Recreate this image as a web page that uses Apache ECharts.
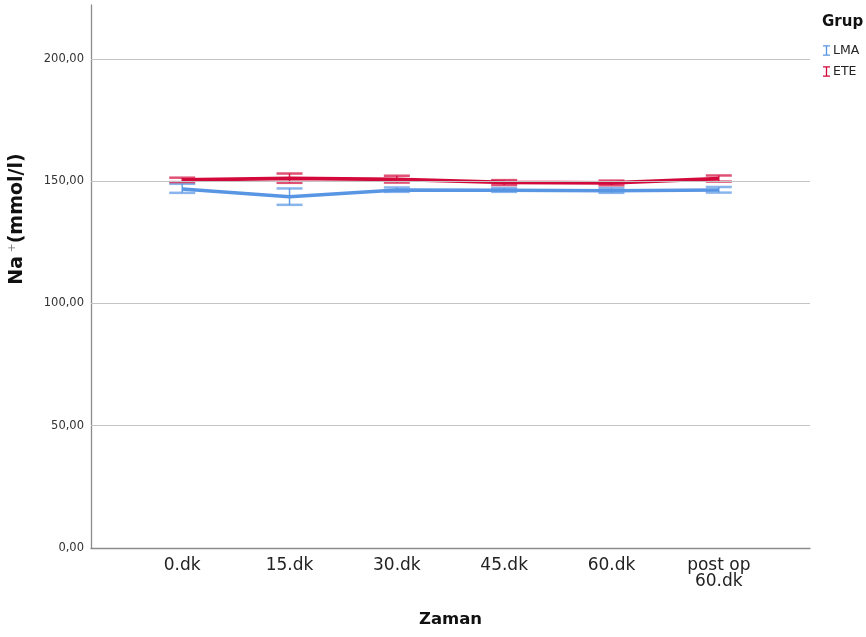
<!DOCTYPE html>
<html>
<head>
<meta charset="utf-8">
<script src="https://cdn.jsdelivr.net/npm/echarts@6/dist/echarts.min.js"></script>
<style>html,body{margin:0;padding:0;background:#fff;}#c{width:866px;height:637px;}</style>
</head>
<body>
<div id="c"></div>
<script>
var categories = ['0.dk', '15.dk', '30.dk', '45.dk', '60.dk', 'post op\n60.dk'];
var lmaMean = [146.8, 143.6, 146.4, 146.3, 146.1, 146.4];
var lmaLow  = [145.2, 140.3, 145.6, 145.6, 145.2, 145.3];
var lmaHigh = [148.9, 147.0, 147.4, 147.2, 147.2, 147.6];
var eteMean = [150.5, 151.1, 150.7, 149.5, 149.3, 151.0];
var eteLow  = [149.6, 149.3, 149.4, 148.4, 148.3, 149.8];
var eteHigh = [151.4, 153.1, 152.2, 150.4, 150.2, 152.3];
var yTicks = [0, 50, 100, 150, 200];

var LMA_COLOR = '#5896E4';
var ETE_COLOR = '#D3093B';
var FONT = 'DejaVu Sans, sans-serif';

function errData(low, high) {
  return categories.map(function (c, i) { return [i, low[i], high[i]]; });
}
function errSeries(name, low, high, color) {
  return {
    type: 'custom', name: name, z: 4,
    data: errData(low, high),
    encode: { x: 0, y: [1, 2] },
    renderItem: function (params, api) {
      var x = api.value(0);
      var p1 = api.coord([x, api.value(1)]);
      var p2 = api.coord([x, api.value(2)]);
      var hw = 13;
      return {
        type: 'group',
        children: [
          { type: 'line', shape: { x1: p1[0], y1: p1[1], x2: p2[0], y2: p2[1] }, style: { stroke: color, lineWidth: 1.5, opacity: 0.9 } },
          { type: 'line', shape: { x1: p1[0] - hw, y1: p1[1], x2: p1[0] + hw, y2: p1[1] }, style: { stroke: color, lineWidth: 2.5, opacity: 0.7 } },
          { type: 'line', shape: { x1: p2[0] - hw, y1: p2[1], x2: p2[0] + hw, y2: p2[1] }, style: { stroke: color, lineWidth: 2.5, opacity: 0.7 } }
        ]
      };
    }
  };
}
var iconPath = 'path://M0,0L8,0L8,1.5L4.75,1.5L4.75,10.5L8,10.5L8,12L0,12L0,10.5L3.25,10.5L3.25,1.5L0,1.5Z';

var chart = echarts.init(document.getElementById('c'), null, { renderer: 'canvas' });
chart.setOption({
  animation: false,
  backgroundColor: '#fff',
  textStyle: { fontFamily: FONT },
  title: {
    text: 'Grup', left: 817, top: 10,
    textStyle: { fontSize: 15, fontWeight: 'bold', color: '#111', fontFamily: FONT }
  },
  legend: {
    orient: 'vertical', left: 818, top: 39, itemGap: 8,
    itemWidth: 7, itemHeight: 11,
    textStyle: { fontSize: 12.5, color: '#222', padding: [0, 0, 0, -2], fontFamily: FONT },
    data: [
      { name: 'LMA', icon: iconPath, itemStyle: { color: LMA_COLOR } },
      { name: 'ETE', icon: iconPath, itemStyle: { color: ETE_COLOR } }
    ],
    selectedMode: false
  },
  grid: { left: 91, right: 56, top: 5, bottom: 89 },
  xAxis: {
    type: 'value', min: -0.85, max: 5.85,
    axisLine: { show: true, onZero: false, lineStyle: { color: '#8c8c8c', width: 1.3 } },
    axisTick: { show: false },
    splitLine: { show: false },
    axisLabel: {
      customValues: [0, 1, 2, 3, 4, 5],
      formatter: function (v) { return categories[Math.round(v)]; },
      fontSize: 17, color: '#222', lineHeight: 16, margin: 10,
      fontFamily: FONT
    },
    name: 'Zaman', nameLocation: 'middle', nameGap: 63,
    nameTextStyle: { fontSize: 16.5, fontWeight: 'bold', color: '#111', fontFamily: FONT }
  },
  yAxis: {
    type: 'value', min: 0, max: 222,
    axisLine: { show: true, onZero: false, lineStyle: { color: '#8c8c8c', width: 1.3 } },
    axisTick: { show: false },
    splitLine: { show: false },
    axisLabel: {
      customValues: yTicks,
      formatter: function (v) { return v.toFixed(2).replace('.', ','); },
      fontSize: 11.5, color: '#333', margin: 7,
      fontFamily: FONT
    }
  },
  graphic: [{
    type: 'text', x: 17, y: 219, rotation: Math.PI / 2,
    style: {
      text: '{b|Na} {s|+}{b|(mmol/l)}',
      align: 'center', verticalAlign: 'middle',
      rich: {
        b: { fontSize: 19, fontWeight: 'bold', fill: '#111', fontFamily: FONT },
        s: { fontSize: 11, fill: '#777', fontFamily: FONT, padding: [0, 0, 10, 0] }
      }
    }
  }],
  series: [
    {
      type: 'line', name: '_grid', silent: true, z: 1, data: [],
      markLine: {
        silent: true, symbol: 'none', label: { show: false },
        lineStyle: { color: '#c4c4c4', type: 'solid', width: 1.2 },
        data: yTicks.filter(function (v) { return v > 0; }).map(function (v) { return { yAxis: v }; })
      }
    },
    {
      type: 'line', name: 'LMA', z: 3,
      data: lmaMean.map(function (v, i) { return [i, v]; }),
      showSymbol: false, symbol: 'none',
      lineStyle: { color: LMA_COLOR, width: 3.5 }, itemStyle: { color: LMA_COLOR }
    },
    {
      type: 'line', name: 'ETE', z: 3,
      data: eteMean.map(function (v, i) { return [i, v]; }),
      showSymbol: false, symbol: 'none',
      lineStyle: { color: ETE_COLOR, width: 3.8 }, itemStyle: { color: ETE_COLOR }
    },
    errSeries('LMA', lmaLow, lmaHigh, LMA_COLOR),
    errSeries('ETE', eteLow, eteHigh, ETE_COLOR)
  ]
});
</script>
</body>
</html>
